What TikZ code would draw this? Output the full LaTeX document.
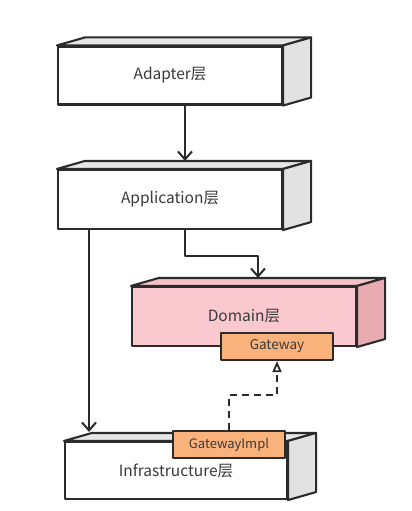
\documentclass[tikz,border=0pt]{standalone}
\usepackage{fontspec}
\setmainfont{Noto Sans CJK SC}
\usetikzlibrary{arrows.meta,calc}
\definecolor{lineC}{HTML}{2B2B2B}
\definecolor{txtC}{HTML}{3A3A3A}
\definecolor{greyTop}{HTML}{E6E6E6}
\definecolor{greySide}{HTML}{E2E2E2}
\definecolor{pinkFront}{HTML}{FAC9CF}
\definecolor{pinkTop}{HTML}{F6C2C8}
\definecolor{pinkSide}{HTML}{E9ABB2}
\definecolor{orangeC}{HTML}{F9B27C}
\newcommand\cuboidfaces[3]{%
  \draw[fill=#2] (#1.north west) -- ($(#1.north west)+(28,-8)$) -- ($(#1.north east)+(28,-8)$) -- (#1.north east) -- cycle;
  \draw[fill=#3] (#1.north east) -- ($(#1.north east)+(28,-8)$) -- ($(#1.south east)+(28,-8)$) -- (#1.south east) -- cycle;}
\begin{document}
\begin{tikzpicture}[x=1pt,y=-1pt,line width=2.1pt,draw=lineC,line join=round,
  front/.style={draw=lineC,fill=white,minimum width=224pt,minimum height=58pt,inner sep=0pt,
    font=\fontsize{15.5}{18}\selectfont,text=txtC},
  port/.style={draw=lineC,fill=orangeC,minimum width=112pt,minimum height=27pt,inner sep=0pt,
    font=\fontsize{13.5}{15}\selectfont,text=txtC},
  arr/.style={draw=lineC,-{Straight Barb[length=8pt,width=14pt,line width=2pt]}},
  darr/.style={draw=lineC,dashed,dash pattern=on 7pt off 5pt,-{Triangle[open,length=11pt,width=9pt,line width=1.8pt]}}]
\useasboundingbox (0,0) rectangle (412,511);
% Adapter
\node[front] (adapter) at (170,75.5) {Adapter层};
\cuboidfaces{adapter}{greyTop}{greySide}
% Application
\node[front,minimum height=59pt] (app) at (170,199.5) {Application层};
\cuboidfaces{app}{greyTop}{greySide}
% Domain
\node[front,fill=pinkFront,minimum height=59pt] (domain) at (244,316.5) {Domain层};
\cuboidfaces{domain}{pinkTop}{pinkSide}
\node[port] (gw) at (277,346.5) {Gateway};
% Infrastructure
\node[front,minimum width=222pt,minimum height=57pt] (infra) at (176,470.5) {\raisebox{-4pt}{Infrastructure层}};
\cuboidfaces{infra}{greyTop}{greySide}
\node[port,font=\fontsize{13}{15}\selectfont] (gwi) at (229,444.5) {GatewayImpl};
% connectors
\draw[arr] ([xshift=15pt]adapter.south) -- ([xshift=15pt,yshift=8pt]app.north);
\draw[arr] ([xshift=15pt]app.south) -- ++(0,26) -| ([xshift=14pt,yshift=8pt]domain.north);
\draw[arr] ([xshift=-81pt]app.south) -- ([xshift=-87pt,yshift=9pt]infra.north);
\draw[darr] (gwi.north) -- ++(0,-35) -| (gw.south);
\end{tikzpicture}
\end{document}
